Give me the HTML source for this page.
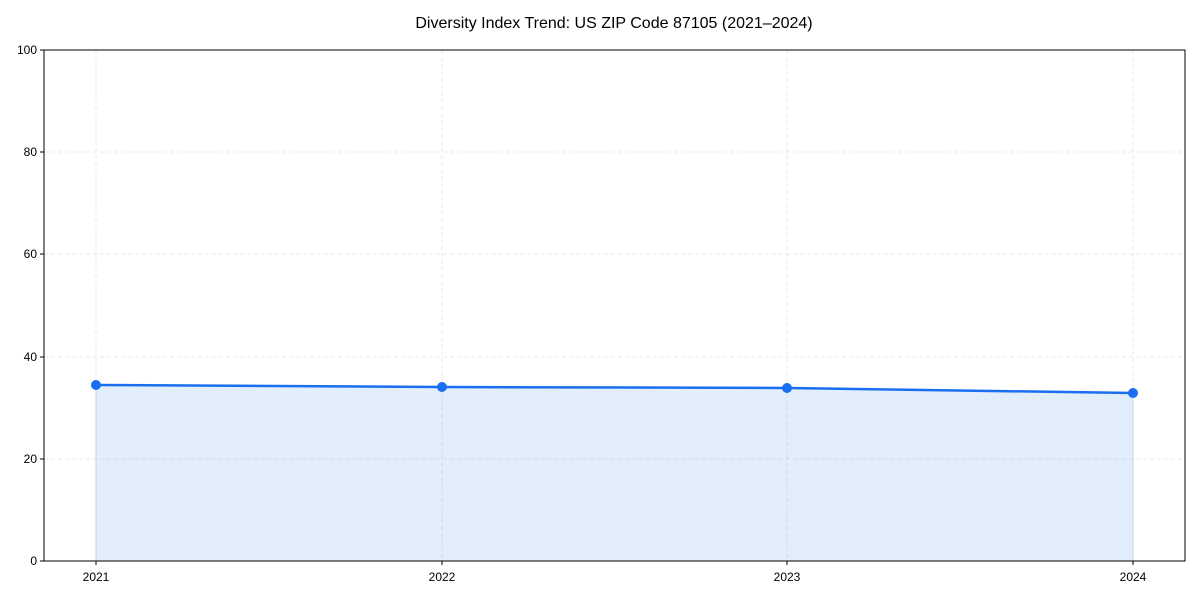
<!DOCTYPE html>
<html><head><meta charset="utf-8"><style>
html,body{margin:0;padding:0;background:#fff;width:1200px;height:600px;overflow:hidden}
text{font-family:"Liberation Sans Narrow","Liberation Sans",sans-serif;fill:#000}
</style></head><body>
<svg width="1200" height="600" viewBox="0 0 1200 600" xmlns="http://www.w3.org/2000/svg">
<rect width="1200" height="600" fill="#fff"/>
<text x="614" y="28" font-size="16" text-anchor="middle">Diversity Index Trend: US ZIP Code 87105 (2021–2024)</text>
<g stroke="#e3e3e3" stroke-width="0.8" stroke-dasharray="4,3">
<line x1="44" y1="459" x2="1185" y2="459"/>
<line x1="44" y1="357" x2="1185" y2="357"/>
<line x1="44" y1="254" x2="1185" y2="254"/>
<line x1="44" y1="152" x2="1185" y2="152"/>
<line x1="96" y1="50" x2="96" y2="561"/>
<line x1="442" y1="50" x2="442" y2="561"/>
<line x1="787" y1="50" x2="787" y2="561"/>
<line x1="1133" y1="50" x2="1133" y2="561"/>
</g>
<polygon points="96,385 442,387 787,388 1133,393 1133,561 96,561" fill="#1a73e8" fill-opacity="0.12"/>
<line x1="96" y1="385" x2="96" y2="561" stroke="#c8d4e8" stroke-width="1"/>
<line x1="1133" y1="393" x2="1133" y2="561" stroke="#c8d4e8" stroke-width="1"/>
<polyline points="96,385 442,387 787,388 1133,393" fill="none" stroke="#1a6ff0" stroke-width="2.5"/>
<g fill="#1a6ff0">
<circle cx="96" cy="385" r="5"/><circle cx="442" cy="387" r="5"/><circle cx="787" cy="388" r="5"/><circle cx="1133" cy="393" r="5"/>
</g>
<rect x="44" y="50" width="1141" height="511" fill="none" stroke="#000" stroke-width="1"/>
<g stroke="#000" stroke-width="1">
<line x1="40" y1="561" x2="44" y2="561"/><line x1="40" y1="459" x2="44" y2="459"/><line x1="40" y1="357" x2="44" y2="357"/>
<line x1="40" y1="254" x2="44" y2="254"/><line x1="40" y1="152" x2="44" y2="152"/><line x1="40" y1="50" x2="44" y2="50"/>
<line x1="96" y1="561" x2="96" y2="565"/><line x1="442" y1="561" x2="442" y2="565"/><line x1="787" y1="561" x2="787" y2="565"/><line x1="1133" y1="561" x2="1133" y2="565"/>
</g>
<g font-size="12" text-anchor="end">
<text x="37" y="565">0</text><text x="37" y="463">20</text><text x="37" y="361">40</text>
<text x="37" y="258">60</text><text x="37" y="156">80</text><text x="37" y="54">100</text>
</g>
<g font-size="12" text-anchor="middle">
<text x="96" y="581">2021</text><text x="442" y="581">2022</text><text x="787" y="581">2023</text><text x="1133" y="581">2024</text>
</g>
</svg>
</body></html>
